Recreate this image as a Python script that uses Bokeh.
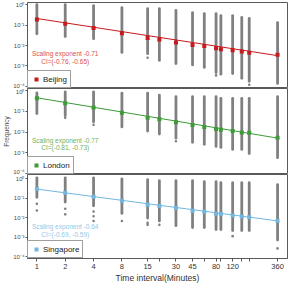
import math

from bokeh.plotting import figure
from bokeh.models import (Range1d, FixedTicker, CustomJSTickFormatter, Label,
                          Legend, LegendItem)
from bokeh.layouts import column
from bokeh.embed import file_html
from bokeh.resources import INLINE

# Time intervals (minutes) at which the probabilities were measured
intervals = [1, 2, 4, 8, 15, 20, 30, 45, 60, 80, 90, 120, 150, 180, 360]
labeled_ticks = [1, 2, 4, 8, 15, 30, 45, 80, 120, 360]
y_ticks = [1, 0.1, 0.01, 0.001, 0.0001]

cities = ["Beijing", "London", "Singapore"]

# Mean probability per interval (log10)
mean_log10 = {
    "Beijing":   [-0.73, -0.94, -1.14, -1.40, -1.63, -1.71, -1.85, -1.97, -2.03, -2.13, -2.18, -2.23, -2.29, -2.36, -2.45],
    "London":    [-0.36, -0.60, -0.80, -1.06, -1.30, -1.38, -1.53, -1.66, -1.76, -1.85, -1.89, -1.95, -2.02, -2.03, -2.28],
    "Singapore": [-0.53, -0.72, -0.92, -1.13, -1.33, -1.40, -1.50, -1.65, -1.70, -1.80, -1.81, -1.89, -1.94, -1.98, -2.16],
}

# Spread of individual samples per interval (log10 of upper / lower end)
upper_log10 = {
    "Beijing":   [0.0, 0.0, -0.05, -0.15, -0.2, -0.2, -0.29, -0.39, -0.44, -0.44, -0.54, -0.54, -0.63, -0.68, -0.88],
    "London":    [-0.1, -0.05, -0.05, -0.11, -0.11, -0.2, -0.28, -0.28, -0.28, -0.28, -0.36, -0.36, -0.36, -0.36, -0.28],
    "Singapore": [0.05, 0.05, 0.05, 0.0, -0.05, -0.1, -0.1, -0.1, -0.15, -0.15, -0.2, -0.2, -0.2, -0.2, -0.3],
}
lower_log10 = {
    "Beijing":   [-1.43, -1.56, -1.67, -2.34, -2.40, -2.73, -2.88, -2.95, -3.07, -3.32, -3.40, -3.37, -3.60, -3.75, -3.85],
    "London":    [-1.10, -1.20, -1.50, -1.75, -1.95, -2.10, -2.30, -2.50, -2.60, -2.70, -2.75, -2.85, -2.85, -3.05, -3.25],
    "Singapore": [-0.95, -1.20, -1.39, -1.78, -2.02, -2.17, -2.41, -2.51, -2.51, -2.61, -2.61, -2.66, -2.66, -2.66, -3.15],
}

# Isolated samples outside the dense spread
outlier_x = {
    "Beijing":   [15, 80, 180],
    "London":    [2, 4, 30],
    "Singapore": [1, 1, 2, 2, 4, 4, 4, 8, 15, 15, 20, 120, 360],
}
outlier_log10 = {
    "Beijing":   [-2.60, -3.46, -3.92],
    "London":    [-1.30, -1.65, -2.45],
    "Singapore": [-1.29, -1.63, -1.54, -1.83, -1.68, -1.93, -2.17, -2.17, -2.27, -2.37, -2.37, -2.95, -3.58],
}

# Power-law fits: exponent, CI and log10 prefactor
exponent = {"Beijing": -0.71, "London": -0.77, "Singapore": -0.64}
ci = {"Beijing": (-0.76, -0.65), "London": (-0.81, -0.73), "Singapore": (-0.69, -0.59)}
prefactor_log10 = {"Beijing": -0.68, "London": -0.33, "Singapore": -0.53}

line_color = {"Beijing": "#c8191c", "London": "#3c9a37", "Singapore": "#72b6e0"}
text_color = {"Beijing": "#d8504f", "London": "#6cb25f", "Singapore": "#92c8e8"}

FONT = "Liberation Sans"
GRAY = "#808080"
AXIS = "#595959"

y_fmt = CustomJSTickFormatter(code="""
const sup = {"-": "\u207b", "0": "\u2070", "1": "\u00b9", "2": "\u00b2", "3": "\u00b3",
             "4": "\u2074", "5": "\u2075", "6": "\u2076", "7": "\u2077", "8": "\u2078", "9": "\u2079"};
const e = Math.round(Math.log10(tick));
return "10" + String(e).split("").map(c => sup[c]).join("");
""")
x_fmt = CustomJSTickFormatter(args=dict(labeled=labeled_ticks), code="""
return labeled.includes(tick) ? String(tick) : "";
""")

panel_specs = {
    # city: (height, y_top_log10, y_bottom_log10, text y log10, ci y log10)
    "Beijing":   (88, 0.10, -4.10, -2.39, -2.76),
    "London":    (86, 0.12, -4.07, -2.41, -2.76),
    "Singapore": (111, 0.22, -4.10, -2.46, -2.85),
}

panels = []
for i, city in enumerate(cities):
    h, ytop, ybot, ty, cy = panel_specs[city]
    last = (i == len(cities) - 1)
    p = figure(width=291, height=h, x_axis_type="log", y_axis_type="log",
               x_range=Range1d(0.795, 459), y_range=Range1d(10 ** ybot, 10 ** ytop),
               output_backend="svg", toolbar_location=None,
               x_axis_location="below" if last else None,
               min_border_left=0, min_border_right=4,
               min_border_top=2 if i == 0 else 0,
               min_border_bottom=0)
    p.grid.visible = False
    p.outline_line_color = AXIS
    p.outline_line_width = 1

    # dense sample spread per interval
    p.segment(x0=intervals, y0=[10 ** v for v in lower_log10[city]],
              x1=intervals, y1=[10 ** v for v in upper_log10[city]],
              line_color=GRAY, line_width=2.8, line_cap="round")
    p.scatter(outlier_x[city], [10 ** v for v in outlier_log10[city]],
              size=2.6, color=GRAY, line_color=None)

    # fitted power law
    xs = [intervals[0], intervals[-1]]
    ys = [10 ** (prefactor_log10[city] + exponent[city] * math.log10(x)) for x in xs]
    p.line(xs, ys, line_color=line_color[city], line_width=1)
    means = p.scatter(intervals, [10 ** v for v in mean_log10[city]], marker="square",
                      size=4, color=line_color[city], line_color=None)

    p.add_layout(Label(x=2, y=10 ** ty, text=f"Scaling exponent {exponent[city]:.2f}",
                       text_align="center", text_baseline="middle",
                       text_font=FONT, text_font_size="6.5px", text_color=text_color[city]))
    p.add_layout(Label(x=2, y=10 ** cy, text=f"CI=({ci[city][0]:.2f}, {ci[city][1]:.2f})",
                       text_align="center", text_baseline="middle",
                       text_font=FONT, text_font_size="6.5px", text_color=text_color[city]))

    legend = Legend(items=[LegendItem(label=city, renderers=[means])],
                    location="bottom_left", margin=0, padding=3, spacing=0,
                    label_standoff=2, glyph_width=10, glyph_height=10, label_height=10,
                    label_text_font=FONT, label_text_font_size="8px",
                    label_text_color="#1a1a1a",
                    border_line_color="#404040", border_line_width=1,
                    background_fill_color="white", background_fill_alpha=1)
    p.add_layout(legend)

    ax = p.yaxis[0]
    ax.ticker = FixedTicker(ticks=y_ticks, minor_ticks=[])
    ax.formatter = y_fmt
    ax.major_label_text_font = FONT
    ax.major_label_text_font_size = "6px"
    ax.major_label_text_color = "#4d4d4d"
    ax.major_label_standoff = 1
    ax.major_tick_out = 2
    ax.major_tick_in = 0
    ax.axis_line_color = AXIS
    ax.major_tick_line_color = AXIS
    # every panel reserves the same room for the y title; only the middle one shows it
    ax.axis_label = "Frequency"
    ax.axis_label_text_font = FONT
    ax.axis_label_text_font_size = "6.5px"
    ax.axis_label_text_font_style = "normal"
    ax.axis_label_standoff = 0
    ax.axis_label_text_color = "#4d4d4d" if city == "London" else None

    if last:
        xa = p.xaxis[0]
        xa.ticker = FixedTicker(ticks=intervals, minor_ticks=[])
        xa.formatter = x_fmt
        xa.major_label_text_font = FONT
        xa.major_label_text_font_size = "7.5px"
        xa.major_label_text_color = "#333333"
        xa.major_label_standoff = 2
        xa.major_tick_out = 3
        xa.major_tick_in = 0
        xa.axis_line_color = AXIS
        xa.major_tick_line_color = AXIS
        xa.axis_label = "Time interval(Minutes)"
        xa.axis_label_text_font = FONT
        xa.axis_label_text_font_size = "8.5px"
        xa.axis_label_text_font_style = "normal"
        xa.axis_label_text_color = "#333333"
        xa.axis_label_standoff = 1
    panels.append(p)

layout = column(*panels, spacing=0)
open("out.html", "w").write(file_html(layout, INLINE))
